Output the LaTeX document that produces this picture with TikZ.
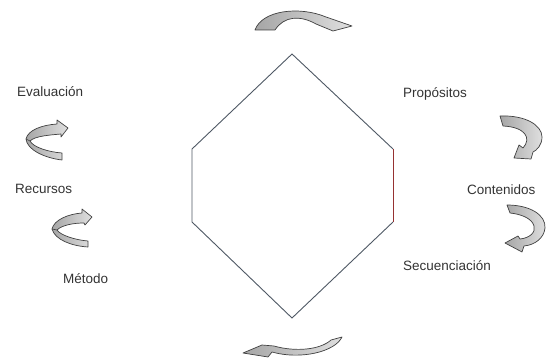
\documentclass[tikz,border=0pt]{standalone}
\usepackage{fontspec}
\setmainfont{Liberation Sans}
\definecolor{hexcol}{RGB}{78,88,100}
\definecolor{hexred}{RGB}{150,50,50}
\begin{document}
\begin{tikzpicture}[x=1pt,y=-1pt,
  lbl/.style={anchor=base west,inner sep=0pt,text=black!80,font=\fontsize{13.5}{16}\selectfont},
  hexline/.style={draw=hexcol,line width=0.9pt,line join=miter},
  ribbon/.style={draw=black!75,line width=0.7pt,line join=round,left color=gray!70,right color=gray!25}]
\useasboundingbox (0,0) rectangle (548,363);
% hexagon
\coordinate (T) at (292,54);
\coordinate (UR) at (393,149);
\coordinate (LR) at (393,222);
\coordinate (B) at (292,318);
\coordinate (LL) at (192,222);
\coordinate (UL) at (192,149);
\draw[hexline] (UR) -- (T) -- (UL) -- (LL) -- (B) -- (LR);
\draw[line width=0.9pt,draw=hexred] (UR) -- (LR);
% labels
\node[lbl] (eval) at (17,97) {Evaluación};
\node[lbl] (recu) at (15,194) {Recursos};
\node[lbl] (meto) at (63,283) {Método};
\node[lbl] (prop) at (403,98) {Propósitos};
\node[lbl] (cont) at (467,195) {Contenidos};
\node[lbl] (secu) at (403,270) {Secuenciación};
% top arrow
\path[ribbon] (255,30) .. controls (262,10) and (300,6) .. (326,17)
  -- (352,26) -- (333,31) -- (316,24) .. controls (300,15) and (284,16) .. (275,30) -- cycle;
% Evaluacion arrow
\path[ribbon] (68,128) -- (57,120) -- (57,124) .. controls (42,125) and (28,130) .. (26,139)
  .. controls (27,150) and (45,158) .. (62,160) -- (62,153)
  .. controls (48,152) and (33,147) .. (30,141)
  .. controls (35,136) and (50,135) .. (61,134) -- (61,137) -- cycle;
\draw[black!75,line width=0.6pt] (26,139) -- (30,141);
% Recursos arrow
\path[ribbon] (92,217) -- (82,209) -- (82,213) .. controls (68,214) and (54,220) .. (52,229)
  .. controls (55,240) and (72,246) .. (88,247) -- (88,241)
  .. controls (75,240) and (60,235) .. (57,230)
  .. controls (62,225) and (74,223) .. (84,223) -- (85,225) -- cycle;
\draw[black!75,line width=0.6pt] (52,229) -- (57,230);
% right upper arrow
\path[ribbon] (500,116) .. controls (525,115) and (542,125) .. (542,137)
  .. controls (542,145) and (537,150) .. (533,152) -- (531,159) -- (514,158) -- (519,145) -- (523,148)
  .. controls (532,138) and (525,127) .. (503,126) -- cycle;
% right lower arrow
\path[ribbon] (507,205) .. controls (530,205) and (546,215) .. (545,228)
  .. controls (544,238) and (535,245) .. (524,246) -- (522,252) -- (505,243) -- (518,236) -- (520,239)
  .. controls (530,238) and (536,232) .. (534,226)
  .. controls (532,218) and (520,214) .. (510,213) -- cycle;
% bottom arrow
\path[ribbon] (342,337) .. controls (335,352) and (300,360) .. (272,352) -- (268,357) -- (243,353)
  -- (262,345) -- (274,346) .. controls (295,352) and (320,350) .. (331,340) -- cycle;
\end{tikzpicture}
\end{document}
